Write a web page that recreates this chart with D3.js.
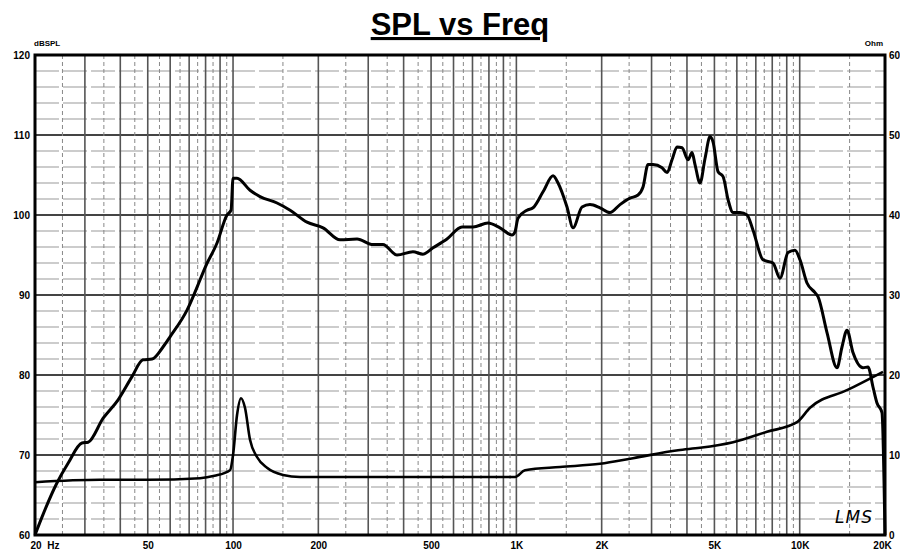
<!DOCTYPE html>
<html>
<head>
<meta charset="utf-8">
<script src="https://cdn.jsdelivr.net/npm/d3@7"></script>
<style>
  body { margin: 0; background: #fff; }
  svg text { font-family: "Liberation Sans", Arial, sans-serif; }
</style>
</head>
<body>
<div id="chart-area"></div>
<script>
// data
var splFreq = [20, 21.2, 23.9, 26.2, 29.3, 30.8, 34.8, 39.3, 44, 48.1, 51.8, 56.6, 60, 68.8, 76.5, 79.6,
  87.8, 95.2, 98.4, 100, 103.3, 114.8, 124.5, 143, 159, 182.4, 207.8, 238.6, 273.9, 312, 338, 379,
  431.6, 468, 508, 569, 643, 703, 794, 875, 965, 989, 1013, 1090, 1145, 1242, 1347, 1403, 1509,
  1585, 1705, 1819, 1973, 2140, 2321, 2518, 2688, 2799, 2915, 3036, 3267, 3403, 3543, 3690, 3844,
  4035, 4168, 4271, 4449, 4634, 4827, 4946, 5151, 5365, 5588, 5820, 6160, 6519, 6844, 7421, 8048,
  8520, 9091, 9624, 10024, 10610, 11324, 11601, 12484, 13540, 14101, 14685, 15418, 16723, 17418,
  18139, 18738, 19515, 20000];
var splValues = [60, 62.3, 66.5, 69, 71.5, 71.6, 74.6, 76.9, 79.8, 81.9, 82, 83.5, 84.8, 88.1, 91.9, 93.4,
  96.5, 100, 100.6, 104.6, 104.6, 103.1, 102.3, 101.5, 100.6, 99.1, 98.4, 96.9, 97, 96.3, 96.3, 95,
  95.4, 95.1, 95.9, 97, 98.5, 98.5, 99, 98.4, 97.5, 97.9, 99.6, 100.6, 100.9, 102.9, 104.9, 104, 101,
  98.4, 101, 101.3, 100.9, 100.3, 101.3, 102.1, 102.5, 103.5, 106.3, 106.3, 105.9, 105.3, 106.9, 108.5, 108.4,
  106.9, 107.8, 106.3, 104, 107.1, 109.8, 109.1, 105.4, 104.8, 101.9, 100.3, 100.3, 100, 98.1, 94.4, 94,
  92.1, 95.3, 95.6, 94.4, 91.5, 90.3, 89.8, 85.3, 80.9, 83.5, 85.6, 82.8, 80.9, 81,
  78.5, 76.5, 75.3, 60];

var impFreq = [20, 33.9, 50, 76.5, 86, 97.6, 100, 103.3, 106.7, 110.2, 114.8, 121.5, 131.8, 150.1, 172.4,
  989, 1073, 1426, 1973, 2580, 3720, 4449, 5820, 7665, 9784, 10875, 14685, 19680];
var impValues = [6.6, 6.9, 6.9, 7.1, 7.4, 8.1, 10, 15, 17.1, 15.9, 11.9, 9.75, 8.4, 7.5, 7.25,
  7.25, 8.1, 8.5, 8.9, 9.6, 10.6, 10.9, 11.6, 12.9, 14.1, 15.9, 18.1, 20.4];

var freqTicks = [20, 50, 100, 200, 500, 1000, 2000, 5000, 10000, 20000];
var freqTickLabels = ["20  Hz", "50", "100", "200", "500", "1K", "2K", "5K", "10K", "20K"];
var splTicks = [60, 70, 80, 90, 100, 110, 120];
var ohmTicks = [0, 10, 20, 30, 40, 50, 60];

// drawing area
var margin = { top: 55, right: 15, bottom: 16, left: 35 };
var width = 900 - margin.left - margin.right;
var height = 551 - margin.top - margin.bottom;

var root = d3.select("#chart-area")
  .append("svg")
  .attr("width", 900)
  .attr("height", 551);

var svg = root.append("g")
  .attr("transform", `translate(${margin.left}, ${margin.top})`);

// scales
var x = d3.scaleLog().domain([20, 20000]).range([0, width]);
var y = d3.scaleLinear().domain([60, 120]).range([height, 0]);
var yR = d3.scaleLinear().domain([0, 60]).range([height, 0]);

// title
root.append("text")
  .attr("x", 460)
  .attr("y", 35)
  .attr("text-anchor", "middle")
  .style("font-size", "31px")
  .style("font-weight", "bold")
  .style("text-decoration", "underline")
  .text("SPL vs Freq");

// grid: horizontal lines every 2 dB
var hLines = d3.range(62, 120, 2);
svg.selectAll(".hgrid")
  .data(hLines)
  .join("line")
  .attr("class", "hgrid")
  .attr("x1", 0)
  .attr("x2", width)
  .attr("y1", (d) => y(d))
  .attr("y2", (d) => y(d))
  .attr("stroke", (d) => (d % 10 === 0 ? "#444" : "#999"))
  .attr("stroke-width", (d) => (d % 10 === 0 ? 1.8 : 1))
  .attr("stroke-dasharray", (d) => (d % 10 === 0 ? null : "24,4"));

// grid: vertical lines at 1.5, 2, 2.5 ... 10 of every decade
var vLines = [];
[10, 100, 1000, 10000].forEach(function (b) {
  d3.range(1.5, 10.01, 0.5).forEach(function (m) {
    var f = Math.round(b * m);
    if (f > 20 && f < 20000) vLines.push({ f: f, whole: m % 1 === 0 });
  });
});

svg.selectAll(".vgrid")
  .data(vLines)
  .join("line")
  .attr("class", "vgrid")
  .attr("x1", (d) => x(d.f))
  .attr("x2", (d) => x(d.f))
  .attr("y1", 0)
  .attr("y2", height)
  .attr("stroke", (d) => (d.whole ? "#555" : "#888"))
  .attr("stroke-width", (d) => (d.whole ? 1.6 : 1))
  .attr("stroke-dasharray", (d) => (d.whole ? null : "4,3"));

// curves
var splLine = d3.line()
  .x((d, i) => x(splFreq[i]))
  .y((d) => y(d))
  .curve(d3.curveMonotoneX);

var impLine = d3.line()
  .x((d, i) => x(impFreq[i]))
  .y((d) => yR(d))
  .curve(d3.curveMonotoneX);

svg.append("path")
  .datum(impValues)
  .attr("fill", "none")
  .attr("stroke", "#000")
  .attr("stroke-width", 2.6)
  .attr("d", impLine);

svg.append("path")
  .datum(splValues)
  .attr("fill", "none")
  .attr("stroke", "#000")
  .attr("stroke-width", 3)
  .attr("stroke-linejoin", "round")
  .attr("d", splLine);

// frame
svg.append("rect")
  .attr("x", 0)
  .attr("y", 0)
  .attr("width", width)
  .attr("height", height)
  .attr("fill", "none")
  .attr("stroke", "#000")
  .attr("stroke-width", 3);

// axes
var xAxis = d3.axisBottom(x)
  .tickValues(freqTicks)
  .tickSize(0)
  .tickPadding(7)
  .tickFormat((d, i) => freqTickLabels[i]);
var yAxis = d3.axisLeft(y).tickValues(splTicks).tickSize(0).tickPadding(5);
var yAxisR = d3.axisRight(yR).tickValues(ohmTicks).tickSize(0).tickPadding(4);

var gx = svg.append("g").attr("transform", `translate(0, ${height})`).call(xAxis);
var gy = svg.append("g").call(yAxis);
var gyR = svg.append("g").attr("transform", `translate(${width}, 0)`).call(yAxisR);

[gx, gy, gyR].forEach(function (g) {
  g.select(".domain").remove();
  g.selectAll("text")
    .style("font-family", "'Liberation Sans', Arial, sans-serif")
    .style("font-size", "10px")
    .style("font-weight", "bold")
    .attr("fill", "#000");
});
gx.selectAll("text").filter((d) => d === 20).attr("text-anchor", "start").attr("dx", -5).style("white-space", "pre");
gx.selectAll("text").filter((d) => d === 20000).attr("dx", -3);

// unit labels
svg.append("text")
  .attr("x", -1)
  .attr("y", -9)
  .style("font-size", "8px")
  .style("font-weight", "bold")
  .text("dBSPL");
svg.append("text")
  .attr("x", width - 2)
  .attr("y", -9)
  .attr("text-anchor", "end")
  .style("font-size", "8px")
  .style("font-weight", "bold")
  .text("Ohm");

// logo
svg.append("text")
  .attr("x", width - 50)
  .attr("y", height - 12)
  .style("font-family", "'DejaVu Sans', sans-serif")
  .style("font-size", "17px")
  .style("font-style", "italic")
  .style("letter-spacing", "1px")
  .text("LMS");
</script>
</body>
</html>
